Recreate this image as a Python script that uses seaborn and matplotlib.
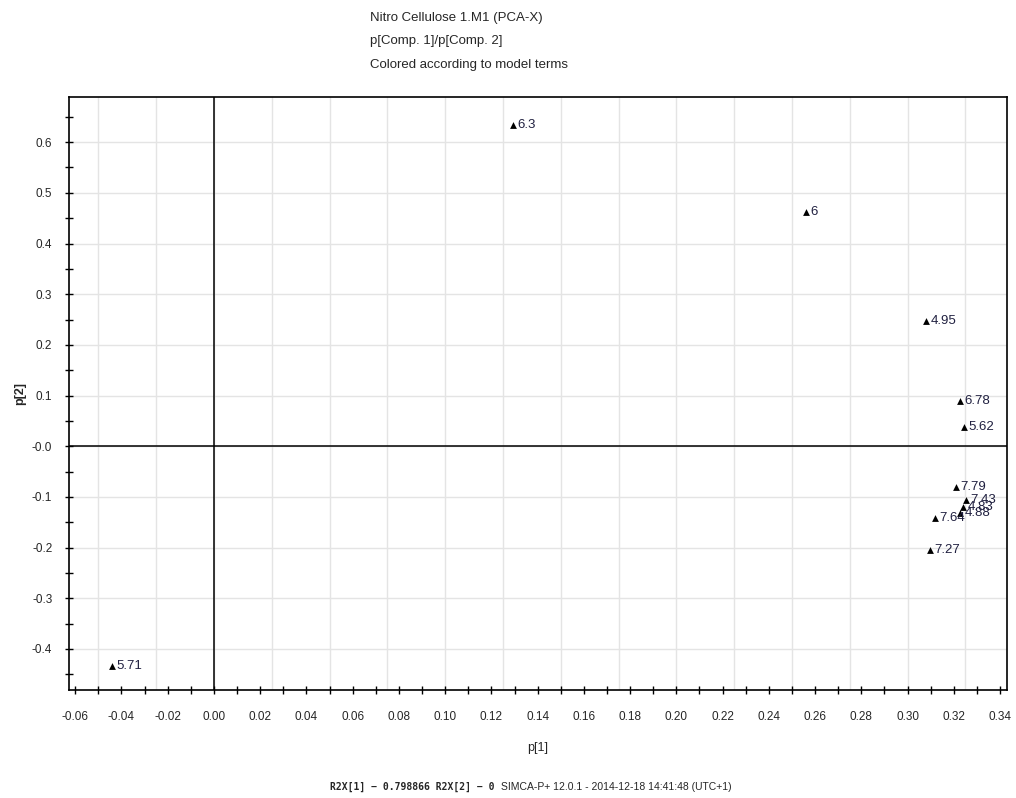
import matplotlib
matplotlib.use("Agg")
import matplotlib.pyplot as plt
import seaborn as sns
import pandas as pd
import numpy as np
from matplotlib.ticker import MultipleLocator, FixedLocator

# ---- data ----
labels = ["6.3", "6", "4.95", "6.78", "5.62", "7.79", "7.43", "4.83", "4.88", "7.64", "7.27", "5.71"]
p1 = [0.1293, 0.2560, 0.3080, 0.3227, 0.3244, 0.3210, 0.3253, 0.3240, 0.3227, 0.3119, 0.3097, -0.0441]
p2 = [0.633, 0.463, 0.247, 0.089, 0.037, -0.081, -0.107, -0.120, -0.131, -0.142, -0.205, -0.434]

xtick_vals = [-0.06, -0.04, -0.02, 0.00, 0.02, 0.04, 0.06, 0.08, 0.10, 0.12, 0.14, 0.16,
              0.18, 0.20, 0.22, 0.24, 0.26, 0.28, 0.30, 0.32, 0.34]
xtick_labels = ["-0.06", "-0.04", "-0.02", "0.00", "0.02", "0.04", "0.06", "0.08", "0.10", "0.12",
                "0.14", "0.16", "0.18", "0.20", "0.22", "0.24", "0.26", "0.28", "0.30", "0.32", "0.34"]
ytick_vals = [0.6, 0.5, 0.4, 0.3, 0.2, 0.1, 0.0, -0.1, -0.2, -0.3, -0.4]
ytick_labels = ["0.6", "0.5", "0.4", "0.3", "0.2", "0.1", "-0.0", "-0.1", "-0.2", "-0.3", "-0.4"]

title_lines = ["Nitro Cellulose 1.M1 (PCA-X)", "p[Comp. 1]/p[Comp. 2]", "Colored according to model terms"]
footer_left = "R2X[1] \u2212 0.798866 R2X[2] \u2212 0"
footer_right = "SIMCA-P+ 12.0.1 - 2014-12-18 14:41:48 (UTC+1)"

df = pd.DataFrame({"p1": p1, "p2": p2, "label": labels})

sns.set_style("white")
plt.rcParams["font.family"] = ["Liberation Sans", "DejaVu Sans"]

fig = plt.figure(figsize=(10.16, 7.98), dpi=100)
ax = fig.add_axes([0.0679, 0.1353, 0.9232, 0.7431])

# grid lines (vertical every 0.025, horizontal every 0.1)
for gx in np.arange(-0.05, 0.3451, 0.025):
    ax.axvline(gx, color="#e4e4e4", lw=1, zorder=0)
for gy in np.arange(-0.4, 0.61, 0.1):
    ax.axhline(gy, color="#e4e4e4", lw=1, zorder=0)

ax.axvline(0, color="black", lw=1.1, zorder=1)
ax.axhline(0, color="black", lw=1.1, zorder=1)

sns.scatterplot(data=df, x="p1", y="p2", marker="^", color="black", s=24,
                edgecolor="black", linewidth=0, ax=ax, zorder=3, legend=False)

for _, r in df.iterrows():
    ax.annotate(r["label"], (r["p1"], r["p2"]), xytext=(3, 0), textcoords="offset points",
                ha="left", va="center", fontsize=9.5, color="#202040", zorder=4)

ax.set_xlim(-0.0627, 0.3430)
ax.set_ylim(-0.481, 0.689)

ax.xaxis.set_major_locator(FixedLocator(xtick_vals))
ax.set_xticklabels(xtick_labels)
ax.xaxis.set_minor_locator(MultipleLocator(0.01))
ax.yaxis.set_major_locator(FixedLocator(ytick_vals))
ax.set_yticklabels(ytick_labels)
ax.yaxis.set_minor_locator(MultipleLocator(0.05))
ax.tick_params(axis="both", which="both", direction="inout", length=6, width=1, color="black",
               labelsize=8.5, bottom=True, left=True)
ax.tick_params(axis="x", which="major", pad=12)
ax.tick_params(axis="y", which="major", pad=9)

for s in ax.spines.values():
    s.set_color("black")
    s.set_linewidth(1.2)

ax.set_xlabel("p[1]", fontsize=9, labelpad=14)
ax.set_ylabel("p[2]", fontsize=9, labelpad=4, fontweight="bold")

for i, t in enumerate(title_lines):
    fig.text(0.364, 0.978 - i * 0.030, t, fontsize=9.5, ha="left", va="center")

fig.text(0.325, 0.014, footer_left, fontsize=7, ha="left", va="center",
         family="DejaVu Sans Mono", fontweight="bold")
fig.text(0.493, 0.014, footer_right, fontsize=7.5, ha="left", va="center")

fig.savefig("out.png", dpi=100)
